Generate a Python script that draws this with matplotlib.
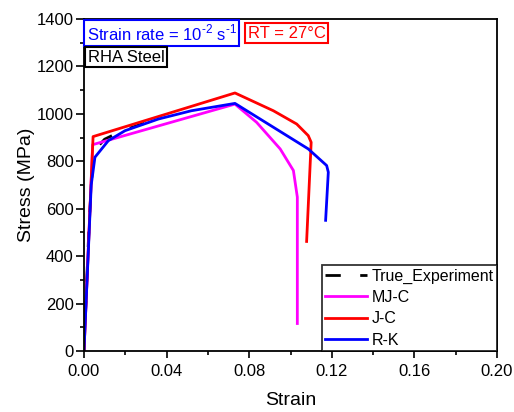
import matplotlib.pyplot as plt
import numpy as np
from matplotlib.ticker import MultipleLocator

plt.rcParams['font.family'] = ['Liberation Sans', 'DejaVu Sans']
plt.rcParams['mathtext.fontset'] = 'custom'
plt.rcParams['mathtext.rm'] = 'Liberation Sans'

# experiment (mostly hidden under R-K)
exp_strain = [0.0, 0.0012, 0.0026, 0.0042, 0.0065, 0.010, 0.0145, 0.021, 0.027, 0.0344]
exp_stress = [0, 270, 560, 790, 860, 893, 912, 936, 954, 973]

mjc_strain = [0.0, 0.0042, 0.0731, 0.0836, 0.095, 0.1014, 0.1033, 0.1033]
mjc_stress = [0, 870, 1041, 964, 852, 761, 649, 116]

jc_strain = [0.0, 0.0044, 0.0731, 0.0917, 0.103, 0.1086, 0.110, 0.1078]
jc_stress = [0, 904, 1088, 1013, 957, 908, 880, 462]

rk_strain = [0.0, 0.0035, 0.0053, 0.0118, 0.0199, 0.036, 0.052, 0.0731, 0.1086, 0.1175, 0.1183, 0.117]
rk_stress = [0, 700, 817, 887, 929, 978, 1013, 1044, 852, 782, 754, 551]

fig = plt.figure(figsize=(5.14, 4.12), dpi=100)
ax = fig.add_axes([0.1634, 0.148, 0.8036, 0.806])

ax.plot(exp_strain, exp_stress, color='black', linestyle=(0, (5.5, 7)), linewidth=2, label='True_Experiment')
ax.plot(mjc_strain, mjc_stress, color='#ff00ff', linewidth=2, label='MJ-C')
ax.plot(jc_strain, jc_stress, color='#ff0000', linewidth=2, label='J-C')
ax.plot(rk_strain, rk_stress, color='#0000ff', linewidth=2, label='R-K')

ax.set_xlim(0, 0.20)
ax.set_ylim(0, 1400)
ax.set_xticks(np.arange(0, 0.201, 0.04))
ax.set_xticklabels(['0.00', '0.04', '0.08', '0.12', '0.16', '0.20'])
ax.set_yticks(np.arange(0, 1401, 200))
ax.xaxis.set_minor_locator(MultipleLocator(0.02))
ax.yaxis.set_minor_locator(MultipleLocator(100))
ax.tick_params(which='both', direction='out', top=False, right=False, labelsize=12, width=1.2)
ax.tick_params(axis='x', which='major', length=5, pad=4.5)
ax.tick_params(axis='y', which='major', length=6, pad=1.5)
ax.tick_params(which='minor', length=3)
for s in ax.spines.values():
    s.set_linewidth(1.3)

ax.set_xlabel('Strain', fontsize=14, labelpad=9)
ax.set_ylabel('Stress (MPa)', fontsize=14, labelpad=1)

ax.text(0.0065, 0.989, r'Strain rate = 10$^{\text{-2}}$ s$^{\text{-1}}$', transform=ax.transAxes,
        color='blue', fontsize=12, va='top', ha='left',
        bbox=dict(boxstyle='square,pad=0.15', facecolor='white', edgecolor='blue', linewidth=1.5))
ax.text(0.397, 0.980, 'RT = 27\u00b0C', transform=ax.transAxes,
        color='red', fontsize=12, va='top', ha='left',
        bbox=dict(boxstyle='square,pad=0.15', facecolor='white', edgecolor='red', linewidth=1.5))
ax.text(0.009, 0.908, 'RHA Steel', transform=ax.transAxes,
        color='black', fontsize=12, va='top', ha='left',
        bbox=dict(boxstyle='square,pad=0.15', facecolor='white', edgecolor='black', linewidth=1.5))

leg = ax.legend(loc='lower right', fontsize=11.5, frameon=True, fancybox=False, borderaxespad=0,
                handlelength=2.6, borderpad=0.2, labelspacing=0.4, handletextpad=0.3)
leg.get_frame().set_edgecolor('black')
leg.get_frame().set_linewidth(1.3)

fig.savefig('out.png', dpi=100)
